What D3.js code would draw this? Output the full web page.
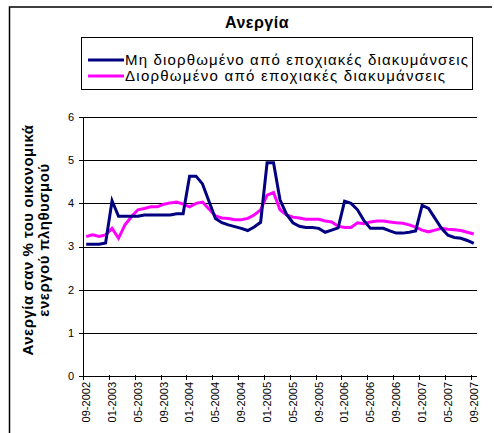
<!DOCTYPE html>
<html>
<head>
<meta charset="utf-8">
<script src="https://cdn.jsdelivr.net/npm/d3@7"></script>
<style>
  body { margin: 0; background: #fff; }
  text { font-family: Arial, "Liberation Sans", sans-serif; }
</style>
</head>
<body>
<div id="chart"></div>
<script>
var months = [
  '09-2002','10-2002','11-2002','12-2002',
  '01-2003','02-2003','03-2003','04-2003','05-2003','06-2003','07-2003','08-2003','09-2003','10-2003','11-2003','12-2003',
  '01-2004','02-2004','03-2004','04-2004','05-2004','06-2004','07-2004','08-2004','09-2004','10-2004','11-2004','12-2004',
  '01-2005','02-2005','03-2005','04-2005','05-2005','06-2005','07-2005','08-2005','09-2005','10-2005','11-2005','12-2005',
  '01-2006','02-2006','03-2006','04-2006','05-2006','06-2006','07-2006','08-2006','09-2006','10-2006','11-2006','12-2006',
  '01-2007','02-2007','03-2007','04-2007','05-2007','06-2007','07-2007','08-2007','09-2007'
];

// Μη διορθωμένο
var unadjusted = [
  3.05, 3.05, 3.05, 3.08,
  4.06, 3.70, 3.70, 3.70, 3.70, 3.73, 3.73, 3.73, 3.73, 3.73, 3.76, 3.76,
  4.63, 4.63, 4.45, 4.05, 3.65, 3.55, 3.50, 3.46, 3.42, 3.37, 3.45, 3.56,
  4.94, 4.94, 4.08, 3.75, 3.55, 3.47, 3.44, 3.44, 3.42, 3.33, 3.38, 3.43,
  4.05, 4.00, 3.85, 3.60, 3.42, 3.42, 3.42, 3.36, 3.31, 3.31, 3.33, 3.36,
  3.95, 3.88, 3.65, 3.42, 3.26, 3.21, 3.19, 3.14, 3.07
];

// Διορθωμένο
var adjusted = [
  3.23, 3.27, 3.23, 3.27,
  3.42, 3.19, 3.50, 3.69, 3.85, 3.88, 3.92, 3.92, 3.98, 4.01, 4.03, 3.98,
  3.92, 4.00, 4.03, 3.87, 3.71, 3.66, 3.65, 3.62, 3.62, 3.65, 3.73, 3.85,
  4.19, 4.25, 3.85, 3.73, 3.68, 3.66, 3.63, 3.63, 3.63, 3.59, 3.57, 3.47,
  3.44, 3.44, 3.55, 3.53, 3.57, 3.59, 3.59, 3.57, 3.55, 3.54, 3.50, 3.45,
  3.38, 3.34, 3.38, 3.42, 3.40, 3.39, 3.37, 3.33, 3.29
];

var seriesNames = ['Μη διορθωμένο από εποχιακές διακυμάνσεις', 'Διορθωμένο από εποχιακές διακυμάνσεις'];
var seriesColors = ['#000080', '#ff00ff'];
var yTicks = [0, 1, 2, 3, 4, 5, 6];

var width = 494, height = 433;
var plotL = 83, plotR = 477, plotT = 117, plotB = 376;

var svg = d3.select('#chart').append('svg')
  .attr('width', width)
  .attr('height', height);

// outer frame (top + left edges visible)
svg.append('path')
  .attr('d', 'M9.5,433 L9.5,7 L492,7')
  .attr('fill', 'none')
  .attr('stroke', '#000')
  .attr('stroke-width', 1.5);

var x = d3.scaleBand().domain(months).range([plotL, plotR]);
var y = d3.scaleLinear().domain([0, 6]).range([plotB, plotT]);

// gridlines
svg.append('g')
  .selectAll('line')
  .data(yTicks.slice(1))
  .enter().append('line')
  .attr('x1', plotL).attr('x2', plotR)
  .attr('y1', d => Math.round(y(d)) + 0.5)
  .attr('y2', d => Math.round(y(d)) + 0.5)
  .attr('stroke', '#000')
  .attr('stroke-width', 1);

// y axis
var yAxis = svg.append('g');
yAxis.append('line')
  .attr('x1', plotL + 0.5).attr('x2', plotL + 0.5)
  .attr('y1', y(6)).attr('y2', y(0))
  .attr('stroke', '#000');
yAxis.selectAll('.tick')
  .data(yTicks)
  .enter().append('line')
  .attr('x1', plotL - 4).attr('x2', plotL)
  .attr('y1', d => Math.round(y(d)) + 0.5)
  .attr('y2', d => Math.round(y(d)) + 0.5)
  .attr('stroke', '#000');
yAxis.selectAll('text')
  .data(yTicks)
  .enter().append('text')
  .attr('x', 74)
  .attr('y', d => y(d))
  .attr('dy', '0.35em')
  .attr('text-anchor', 'end')
  .attr('font-size', 11)
  .text(d => d);

// x axis
var xAxis = svg.append('g');
xAxis.append('line')
  .attr('x1', plotL).attr('x2', plotR)
  .attr('y1', Math.round(y(0)) + 0.5).attr('y2', Math.round(y(0)) + 0.5)
  .attr('stroke', '#000');
var shown = months.filter((d, i) => i % 4 === 0);
xAxis.selectAll('.tick')
  .data(shown)
  .enter().append('line')
  .attr('x1', d => Math.round(x(d)) + 0.5)
  .attr('x2', d => Math.round(x(d)) + 0.5)
  .attr('y1', y(0) - 1).attr('y2', y(0) + 4)
  .attr('stroke', '#000');
xAxis.selectAll('text')
  .data(shown)
  .enter().append('text')
  .attr('transform', d => 'translate(' + (x(d) + x.bandwidth() / 2) + ',' + 382 + ') rotate(-90)')
  .attr('dy', '0.35em')
  .attr('text-anchor', 'end')
  .attr('font-size', 11)
  .text(d => d);

// lines
var line = d3.line()
  .x((d, i) => x(months[i]) + x.bandwidth() / 2)
  .y(d => y(d));

[adjusted, unadjusted].forEach(function(vals, k) {
  svg.append('path')
    .datum(vals)
    .attr('fill', 'none')
    .attr('stroke', k === 0 ? seriesColors[1] : seriesColors[0])
    .attr('stroke-width', 3)
    .attr('stroke-linejoin', 'miter')
    .attr('d', line);
});

// title
svg.append('text')
  .attr('x', 257)
  .attr('y', 28)
  .attr('text-anchor', 'middle')
  .attr('font-size', 16)
  .attr('font-weight', 'bold')
  .attr('letter-spacing', 0.5)
  .text('Ανεργία');

// legend
var legend = svg.append('g');
legend.append('rect')
  .attr('x', 81.5).attr('y', 37.5)
  .attr('width', 391).attr('height', 52)
  .attr('fill', '#fff')
  .attr('stroke', '#000');
var legendLens = [343, 320];
seriesNames.forEach(function(name, i) {
  var ly = 60 + i * 16;
  legend.append('line')
    .attr('x1', 88).attr('x2', 124)
    .attr('y1', ly).attr('y2', ly)
    .attr('stroke', seriesColors[i])
    .attr('stroke-width', 3);
  legend.append('text')
    .attr('x', 125)
    .attr('y', ly + 5)
    .attr('font-size', 15)
    .attr('textLength', legendLens[i])
    .attr('lengthAdjust', 'spacing')
    .text(name);
});

// y axis title
var yTitle = svg.append('text')
  .attr('transform', 'translate(33,240) rotate(-90)')
  .attr('text-anchor', 'middle')
  .attr('font-size', 15)
  .attr('font-weight', 'bold')
  .attr('letter-spacing', 0.5);
yTitle.append('tspan').attr('x', 0).attr('y', 0).text('Ανεργία σαν % του οικονομικά');
yTitle.append('tspan').attr('x', 0).attr('y', 16).text('ενεργού πληθυσμού');
</script>
</body>
</html>
